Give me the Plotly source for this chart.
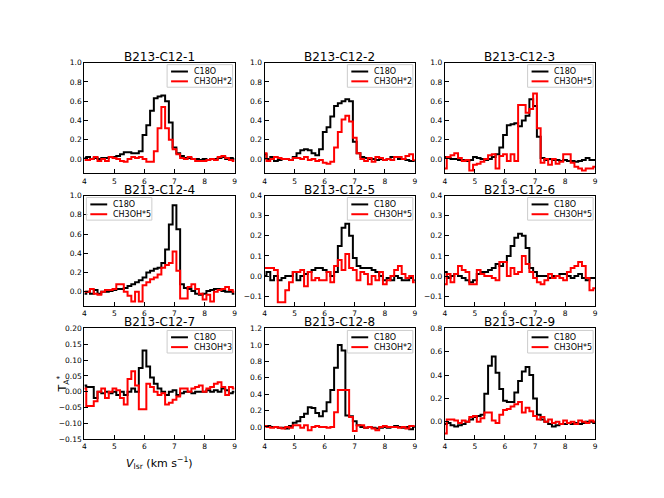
import plotly.graph_objects as go
from plotly.subplots import make_subplots

# velocity channels (km/s)
velocity = [4.0, 4.125, 4.25, 4.375, 4.5, 4.625, 4.75, 4.875, 5.0, 5.125,
            5.25, 5.375, 5.5, 5.625, 5.75, 5.875, 6.0, 6.125, 6.25, 6.375,
            6.5, 6.625, 6.75, 6.875, 7.0, 7.125, 7.25, 7.375, 7.5, 7.625,
            7.75, 7.875, 8.0, 8.125, 8.25, 8.375, 8.5, 8.625, 8.75, 8.875, 9.0]

cores = ["B213-C12-1", "B213-C12-2", "B213-C12-3",
         "B213-C12-4", "B213-C12-5", "B213-C12-6",
         "B213-C12-7", "B213-C12-8", "B213-C12-9"]
ch3oh_scale = [2, 2, 5, 5, 5, 5, 3, 2, 5]

c18o_1 = [0.01, 0.02, 0.0, 0.01, 0.0, 0.01, 0.01, 0.02, 0.02, 0.03,
          0.05, 0.07, 0.07, 0.06, 0.06, 0.08, 0.25, 0.35, 0.5, 0.63,
          0.65, 0.66, 0.6, 0.38, 0.12, 0.06, 0.03, 0.01, 0.01, 0.0,
          0.0, -0.01, 0.0, -0.01, 0.0, 0.0, 0.01, 0.02, 0.0, 0.01, 0.0]
ch3oh_1 = [-0.01, -0.01, 0.0, 0.02, -0.02, 0.0, -0.02, 0.02, 0.01, 0.0,
           -0.02, -0.03, 0.0, 0.02, 0.01, 0.02, 0.0, -0.03, -0.03, 0.08,
           0.32, 0.54, 0.32, 0.2, 0.1, 0.05, 0.01, 0.0, 0.02, 0.0,
           -0.02, -0.02, -0.02, -0.01, 0.0, -0.01, 0.02, 0.03, 0.01, -0.01, -0.02]

c18o_2 = [0.05, 0.0, 0.02, -0.02, -0.01, 0.0, 0.0, -0.01, 0.02, 0.06,
          0.09, 0.1, 0.09, 0.06, 0.04, 0.1, 0.28, 0.33, 0.44, 0.55,
          0.58, 0.6, 0.62, 0.6, 0.18, 0.06, 0.02, 0.01, 0.0, 0.0,
          -0.01, 0.0, -0.01, 0.0, 0.02, 0.02, 0.0, 0.0, -0.01, -0.02, -0.02]
ch3oh_2 = [0.06, -0.02, 0.0, 0.02, 0.01, 0.0, 0.0, -0.01, 0.01, 0.01,
           0.0, 0.02, -0.01, 0.0, -0.02, -0.01, -0.04, -0.05, -0.03, 0.12,
           0.28, 0.41, 0.45, 0.39, 0.22, 0.06, 0.0, -0.02, 0.01, -0.03,
           0.02, 0.01, -0.01, 0.0, -0.01, 0.02, 0.02, 0.0, 0.03, 0.05, -0.01]

c18o_3 = [0.02, 0.01, 0.0, 0.0, -0.01, -0.01, -0.02, -0.01, 0.02, 0.01,
          0.0, -0.01, 0.0, 0.02, 0.05, 0.12, 0.25, 0.35, 0.36, 0.37,
          0.34, 0.4, 0.45, 0.62, 0.55, 0.23, 0.01, -0.01, 0.0, -0.01,
          -0.01, -0.02, -0.01, -0.02, -0.02, -0.03, -0.02, -0.01, 0.01, -0.01, -0.01]
ch3oh_3 = [-0.1, 0.02, 0.04, 0.06, 0.01, -0.02, -0.01, -0.12, -0.06, -0.05,
           -0.03, 0.0, 0.04, 0.05, -0.1, 0.03, 0.05, -0.02, 0.05, -0.02,
           0.56, 0.56, 0.48, 0.52, 0.68, 0.32, -0.04, 0.0, -0.06, 0.0,
           -0.05, -0.03, 0.05, 0.05, -0.04, -0.08, -0.1, -0.12, -0.1, -0.1, -0.08]

c18o_4 = [-0.02, 0.0, -0.02, 0.02, -0.02, 0.0, 0.0, 0.01, 0.02, 0.03,
          0.03, 0.04, 0.06, 0.08, 0.1, 0.12, 0.15, 0.2, 0.22, 0.24,
          0.25, 0.3, 0.44, 0.7, 0.9, 0.65, 0.08, 0.04, 0.03, 0.01,
          -0.02, -0.03, -0.02, 0.01, 0.02, 0.03, 0.03, 0.01, 0.0, 0.0, -0.02]
ch3oh_4 = [0.0, 0.0, 0.03, -0.02, -0.03, 0.0, 0.02, 0.02, 0.03, 0.08,
           0.08, 0.0, -0.04, -0.1, 0.0, -0.1, 0.07, 0.1, 0.13, 0.15,
           0.18, 0.25, 0.28, 0.3, 0.42, 0.22, -0.07, -0.07, 0.05, 0.08,
           0.03, -0.02, -0.08, -0.03, -0.1, 0.0, 0.02, 0.03, 0.05, 0.02, 0.0]

c18o_5 = [0.0, 0.02, -0.02, 0.0, -0.02, -0.01, 0.0, 0.0, 0.02, -0.02,
          0.0, 0.01, 0.02, 0.03, 0.04, 0.04, 0.03, 0.02, 0.0, 0.02,
          0.15, 0.24, 0.26, 0.2, 0.09, 0.05, 0.04, 0.04, 0.04, 0.03,
          0.02, 0.0, -0.02, -0.01, -0.02, 0.0, -0.01, -0.02, -0.02, -0.01, -0.02]
ch3oh_5 = [0.04, 0.04, 0.04, 0.03, -0.13, -0.13, -0.07, -0.03, 0.02, 0.02,
           0.03, -0.05, 0.02, -0.02, -0.01, -0.02, -0.02, 0.02, -0.03, 0.05,
           0.08, 0.03, 0.11, 0.04, 0.03, -0.02, 0.02, 0.01, -0.04, 0.0,
           -0.02, 0.02, -0.04, -0.02, 0.0, 0.03, 0.05, 0.01, -0.01, 0.0, -0.03]

c18o_6 = [0.02, -0.01, 0.0, 0.01, 0.0, -0.01, -0.02, -0.03, -0.02, 0.01,
          0.02, 0.02, 0.03, 0.04, 0.06, 0.05, 0.07, 0.1, 0.15, 0.19,
          0.21, 0.2, 0.14, 0.04, 0.02, 0.0, 0.0, 0.0, -0.01, 0.0,
          0.0, 0.01, 0.01, 0.0, -0.01, 0.0, 0.01, -0.01, -0.02, -0.01, -0.01]
ch3oh_6 = [-0.04, 0.01, -0.03, 0.01, 0.05, 0.03, 0.02, -0.04, -0.04, 0.03,
           0.01, 0.0, 0.0, -0.01, -0.02, 0.07, 0.07, 0.0, 0.04, 0.01,
           0.02, 0.1, 0.06, 0.02, -0.01, -0.03, -0.04, -0.02, 0.01, -0.01,
           0.0, -0.01, -0.02, 0.02, 0.04, 0.05, 0.07, 0.05, -0.01, -0.07, -0.06]

c18o_7 = [0.02, 0.015, 0.015, -0.02, 0.0, -0.005, 0.0, -0.005, 0.0, -0.01,
          0.0, -0.01, 0.0, 0.01, 0.0, 0.075, 0.13, 0.08, 0.045, 0.025,
          0.01, 0.0, -0.01, 0.0, 0.005, -0.01, -0.005, 0.0, 0.0, -0.005,
          0.0, 0.0, 0.0, 0.005, 0.0, 0.005, 0.0, 0.01, 0.005, -0.005, 0.0]
ch3oh_7 = [0.01, -0.045, -0.045, -0.03, 0.0, 0.01, -0.02, 0.0, 0.01, 0.005,
           -0.02, -0.04, 0.04, 0.065, 0.02, -0.055, -0.055, 0.025, 0.015, 0.0,
           -0.01, -0.005, -0.04, -0.035, -0.025, -0.015, 0.01, 0.01, 0.0, 0.01,
           0.015, 0.02, 0.0, 0.01, 0.015, 0.025, 0.03, 0.015, -0.01, 0.015, 0.01]

c18o_8 = [0.01, 0.01, 0.0, 0.0, -0.01, -0.01, -0.02, 0.01, 0.05, 0.07,
          0.12, 0.16, 0.24, 0.23, 0.17, 0.13, 0.19, 0.3, 0.45, 0.72,
          1.0, 0.93, 0.14, 0.13, 0.07, 0.02, 0.0, -0.01, 0.0, -0.01,
          -0.02, -0.01, 0.0, -0.01, 0.0, 0.01, 0.0, -0.01, 0.0, -0.03, 0.0]
ch3oh_8 = [0.01, 0.0, -0.01, 0.0, -0.01, -0.02, 0.0, -0.01, 0.02, 0.02,
           -0.01, 0.02, -0.04, 0.0, 0.01, 0.0, 0.0, -0.01, 0.0, 0.18,
           0.45, 0.45, 0.45, 0.12, -0.05, 0.02, 0.02, -0.01, 0.0, -0.02,
           -0.04, 0.0, 0.01, 0.0, 0.0, 0.0, -0.01, 0.0, -0.02, 0.01, 0.01]

c18o_9 = [-0.02, -0.01, -0.03, -0.04, -0.03, -0.02, 0.0, 0.02, 0.04, 0.05,
          0.06, 0.24, 0.48, 0.56, 0.42, 0.28, 0.18, 0.17, 0.17, 0.25,
          0.35, 0.43, 0.47, 0.4, 0.2, 0.06, 0.02, 0.0, -0.02, -0.04,
          -0.03, -0.02, -0.02, -0.01, -0.02, -0.01, -0.02, -0.01, 0.0, 0.0, -0.01]
ch3oh_9 = [-0.1, 0.02, 0.02, 0.01, -0.01, 0.01, 0.0, 0.04, 0.05, 0.0,
           0.03, 0.08, 0.08, 0.01, -0.01, 0.06, 0.1, 0.11, 0.13, 0.15,
           0.17, 0.08, 0.12, 0.09, 0.05, 0.02, 0.04, 0.0, 0.02, -0.01,
           0.0, -0.02, 0.01, -0.01, 0.0, -0.02, 0.01, 0.0, -0.01, 0.01, 0.0]

c18o = [c18o_1, c18o_2, c18o_3, c18o_4, c18o_5, c18o_6, c18o_7, c18o_8, c18o_9]
ch3oh = [ch3oh_1, ch3oh_2, ch3oh_3, ch3oh_4, ch3oh_5, ch3oh_6, ch3oh_7, ch3oh_8, ch3oh_9]

y_top = [1.0, 1.0, 1.0, 1.0, 0.4, 0.4, 0.2, 1.2, 0.8]
y_ticks = [
    [0.0, 0.2, 0.4, 0.6, 0.8, 1.0],
    [0.0, 0.2, 0.4, 0.6, 0.8, 1.0],
    [0.0, 0.2, 0.4, 0.6, 0.8, 1.0],
    [0.0, 0.2, 0.4, 0.6, 0.8, 1.0],
    [-0.1, 0.0, 0.1, 0.2, 0.3, 0.4],
    [-0.1, 0.0, 0.1, 0.2, 0.3, 0.4],
    [-0.15, -0.10, -0.05, 0.0, 0.05, 0.10, 0.15, 0.20],
    [0.0, 0.2, 0.4, 0.6, 0.8, 1.0, 1.2],
    [0.0, 0.2, 0.4, 0.6, 0.8],
]
y_fmt = [".1f"] * 6 + [".2f", ".1f", ".1f"]

# matplotlib-like default subplot geometry
W, H = 664, 498
left, right, bottom, top = 0.125, 0.9, 0.11, 0.88
cw = (right - left) / 3.4
ch = (top - bottom) / 3.4
x_dom = [[left + c * 1.2 * cw, left + c * 1.2 * cw + cw] for c in range(3)]
y_dom = [[top - r * 1.2 * ch - ch, top - r * 1.2 * ch] for r in range(3)]


def px(xp):
    return xp / W


def py(yp):
    return 1 - yp / H


fig = make_subplots(rows=3, cols=3)

for i in range(9):
    r, c = divmod(i, 3)
    fig.add_trace(go.Scatter(x=velocity, y=c18o[i], name="C18O",
                             mode="lines", line=dict(color="black", width=2, shape="hvh")),
                  row=r + 1, col=c + 1)
    fig.add_trace(go.Scatter(x=velocity, y=ch3oh[i], name=f"CH3OH*{ch3oh_scale[i]}",
                             mode="lines", line=dict(color="red", width=2, shape="hvh")),
                  row=r + 1, col=c + 1)

    xa = "xaxis" if i == 0 else f"xaxis{i + 1}"
    ya = "yaxis" if i == 0 else f"yaxis{i + 1}"
    fig.layout[xa].update(domain=x_dom[c], range=[4, 9], tickvals=[4, 5, 6, 7, 8, 9],
                          ticks="inside", ticklen=4, tickwidth=1, tickcolor="black",
                          showline=True, linecolor="black", linewidth=1.2, mirror=True,
                          showgrid=False, zeroline=False,
                          tickfont=dict(size=7.5, color="black"))
    fig.layout[ya].update(domain=y_dom[r], range=[-0.15, y_top[i]], tickvals=y_ticks[i],
                          tickformat=y_fmt[i],
                          ticks="inside", ticklen=4, tickwidth=1, tickcolor="black",
                          showline=True, linecolor="black", linewidth=1.2, mirror=True,
                          showgrid=False, zeroline=False,
                          tickfont=dict(size=7.5, color="black"))

    # small matplotlib-style legend box
    ax_left = x_dom[c][0] * W
    ax_right = x_dom[c][1] * W
    ax_top = (1 - y_dom[r][1]) * H
    box_w, box_h = 66, 23
    bx0 = ax_left + 2 if i == 3 else ax_right - 2 - box_w
    by0 = ax_top + 2
    fig.add_shape(type="rect", xref="paper", yref="paper",
                  x0=px(bx0), x1=px(bx0 + box_w), y0=py(by0), y1=py(by0 + box_h),
                  line=dict(color="#cccccc", width=1), fillcolor="rgba(255,255,255,0.85)",
                  layer="above")
    for k, (label, color) in enumerate([("C18O", "black"),
                                        (f"CH3OH*{ch3oh_scale[i]}", "red")]):
        ly = by0 + 7 + k * 10
        fig.add_shape(type="line", xref="paper", yref="paper",
                      x0=px(bx0 + 4), x1=px(bx0 + 21), y0=py(ly), y1=py(ly),
                      line=dict(color=color, width=2), layer="above")
        fig.add_annotation(text=label, xref="paper", yref="paper",
                           x=px(bx0 + 25), y=py(ly), xanchor="left", yanchor="middle",
                           showarrow=False, font=dict(size=8, color="black"))

    fig.add_annotation(text=cores[i], xref="paper", yref="paper",
                       x=(x_dom[c][0] + x_dom[c][1]) / 2, y=y_dom[r][1],
                       xanchor="center", yanchor="bottom", yshift=-3, showarrow=False,
                       font=dict(size=12, color="black"))

fig.add_annotation(text="<i>V</i><sub>lsr</sub> (km s<sup>−1</sup>)", xref="paper", yref="paper",
                   x=(x_dom[0][0] + x_dom[0][1]) / 2, y=y_dom[2][0] - 14 / H,
                   xanchor="center", yanchor="top", showarrow=False,
                   font=dict(size=11, color="black"))
fig.add_annotation(text="T<sub>A</sub><sup>*</sup>", xref="paper", yref="paper",
                   x=x_dom[0][0] - 22 / W, y=(y_dom[2][0] + y_dom[2][1]) / 2,
                   xanchor="center", yanchor="middle", textangle=-90, showarrow=False,
                   font=dict(size=11, color="black"))

fig.update_layout(width=W, height=H, margin=dict(l=0, r=0, t=0, b=0),
                  plot_bgcolor="white", paper_bgcolor="white",
                  font=dict(family="DejaVu Sans", color="black"),
                  showlegend=False)

fig.write_html("out.html", config={"displayModeBar": False},
               post_script="document.body.style.margin='0';")
